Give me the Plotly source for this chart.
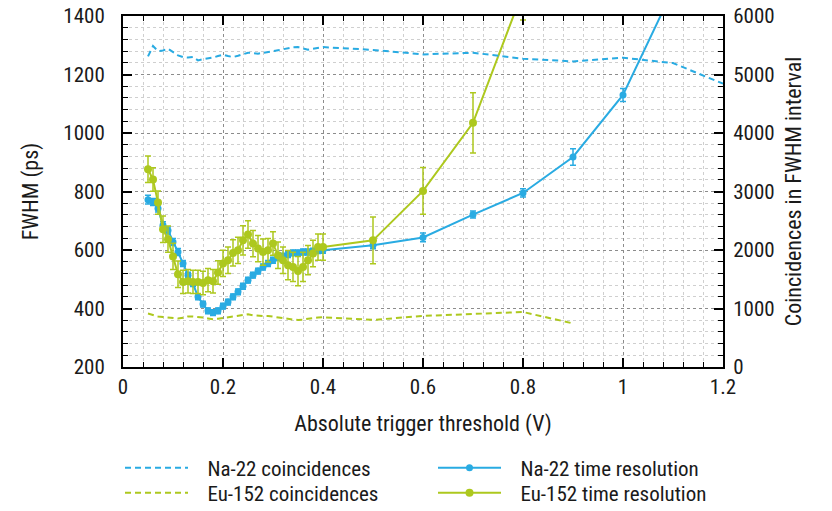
import plotly.graph_objects as go

# ---- data ----
x_dense = [0.05, 0.06, 0.07, 0.08, 0.09, 0.10, 0.11, 0.12, 0.13, 0.14, 0.15, 0.16,
           0.17, 0.18, 0.19, 0.20, 0.21, 0.22, 0.23, 0.24, 0.25, 0.26, 0.27, 0.28,
           0.29, 0.30, 0.31, 0.32, 0.33, 0.34, 0.35, 0.36, 0.37, 0.38, 0.39, 0.40]

x_na_time = x_dense + [0.5, 0.6, 0.7, 0.8, 0.9, 1.0, 1.1]
na_time = [772, 764, 742, 685, 667, 627, 593, 554, 514, 485, 440, 415,
           392, 386, 392, 408, 422, 440, 457, 476, 497, 514, 528, 542,
           554, 565, 574, 579, 584, 590, 590, 593, 593, 596, 598, 599,
           616, 643, 721, 795, 918, 1130, 1490]
na_time_err = [15, 12, 12, 12, 12, 12, 12, 10, 10, 10, 10, 10,
               10, 10, 10, 10, 10, 10, 10, 10, 10, 10, 10, 10,
               10, 10, 10, 10, 10, 10, 10, 10, 10, 10, 10, 10,
               12, 15, 12, 14, 28, 22, 25]

x_eu_time = x_dense + [0.5, 0.6, 0.7, 0.8]
eu_time = [876, 841, 762, 671, 637, 578, 517, 491, 493, 491, 491, 487,
           497, 493, 523, 554, 565, 590, 599, 633, 653, 622, 605, 593,
           599, 622, 582, 565, 548, 542, 528, 542, 565, 588, 610, 610,
           633, 802, 1035, 1486]
eu_time_err = [45, 40, 40, 45, 45, 45, 45, 40, 40, 40, 40, 40,
               40, 40, 40, 45, 45, 45, 45, 50, 47, 45, 45, 45,
               40, 40, 45, 45, 50, 50, 50, 50, 50, 45, 45, 45,
               80, 80, 103, 100]

x_na_coinc = x_dense + [0.5, 0.6, 0.7, 0.8, 0.9, 1.0, 1.1, 1.2]
na_coinc = [5310, 5486, 5400, 5412, 5441, 5383, 5327, 5298, 5290, 5300, 5241, 5260,
            5270, 5290, 5315, 5339, 5315, 5298, 5320, 5350, 5373, 5365, 5356, 5370,
            5390, 5400, 5415, 5435, 5455, 5465, 5469, 5440, 5424, 5440, 5455, 5469,
            5420, 5344, 5372, 5270, 5224, 5287, 5195, 4843]

x_eu_coinc = x_dense + [0.5, 0.6, 0.7, 0.8, 0.9]
eu_coinc = [914, 890, 865, 856, 845, 835, 828, 840, 865, 862, 856, 845,
            830, 816, 825, 839, 855, 868, 880, 895, 902, 885, 873, 873,
            873, 860, 839, 828, 818, 812, 805, 808, 825, 839, 845, 851,
            805, 873, 905, 940, 745]

legend_names = ["Na-22 coincidences", "Na-22 time resolution",
                "Eu-152 coincidences", "Eu-152 time resolution"]

BLUE = "#29abe2"
GREEN = "#adc81e"
FONT = "Roboto Condensed, Liberation Sans Narrow, sans-serif"
TXT = "#1a1a1a"
PAD = "\u00a0\u00a0\u00a0"

fig = go.Figure()

fig.add_trace(go.Scatter(
    x=x_na_coinc, y=na_coinc, yaxis="y2", mode="lines", name=PAD + legend_names[0],
    legend="legend", line=dict(color=BLUE, width=2, dash="6px,4px")))
fig.add_trace(go.Scatter(
    x=x_na_time, y=na_time, mode="lines+markers", name=PAD + legend_names[1],
    legend="legend", line=dict(color=BLUE, width=2), marker=dict(color=BLUE, size=7),
    error_y=dict(type="data", array=na_time_err, color=BLUE, thickness=1.5, width=3)))
fig.add_trace(go.Scatter(
    x=x_eu_coinc, y=eu_coinc, yaxis="y2", mode="lines", name=PAD + legend_names[2],
    legend="legend2", line=dict(color=GREEN, width=2, dash="6px,4px")))
fig.add_trace(go.Scatter(
    x=x_eu_time, y=eu_time, mode="lines+markers", name=PAD + legend_names[3],
    legend="legend2", line=dict(color=GREEN, width=2), marker=dict(color=GREEN, size=8),
    error_y=dict(type="data", array=eu_time_err, color=GREEN, thickness=1.5, width=3)))

axis_common = dict(
    showline=True, linewidth=2, linecolor="black",
    ticks="inside", ticklen=9, tickwidth=1.5, tickcolor="black",
    zeroline=False,
    tickfont=dict(family=FONT, size=21, color=TXT),
)

legend_common = dict(orientation="h", x=-0.005, xanchor="left", yanchor="middle",
                     itemwidth=63, entrywidth=235, entrywidthmode="pixels",
                     font=dict(family=FONT, size=21, color=TXT),
                     bgcolor="rgba(0,0,0,0)", traceorder="normal")

fig.update_layout(
    width=832, height=511,
    margin=dict(l=123, r=109, t=16, b=144, pad=0, autoexpand=False),
    paper_bgcolor="white", plot_bgcolor="white",
    font=dict(family=FONT, size=21, color=TXT),
    showlegend=True,
    legend=dict(y=-0.288, **legend_common),
    legend2=dict(y=-0.359, **legend_common),
    xaxis=dict(
        range=[0, 1.2], tick0=0, dtick=0.2, mirror="ticks",
        showgrid=True, gridcolor="#8c8c8c", griddash="dot", gridwidth=1,
        minor=dict(dtick=0.04, ticks="inside", ticklen=5, tickwidth=1, tickcolor="black",
                   showgrid=True, gridcolor="#cfcfcf", griddash="dot", gridwidth=1),
        ticklabelstandoff=0,
        title=dict(text="Absolute trigger threshold (V)", standoff=17,
                   font=dict(family=FONT, size=22, color=TXT)),
        automargin=False,
        **axis_common),
    yaxis=dict(
        range=[200, 1400], tick0=200, dtick=200, mirror=True,
        showgrid=True, gridcolor="#8c8c8c", griddash="dot", gridwidth=1,
        minor=dict(dtick=40, ticks="inside", ticklen=5, tickwidth=1, tickcolor="black",
                   showgrid=True, gridcolor="#cfcfcf", griddash="dot", gridwidth=1),
        ticklabelstandoff=12,
        title=dict(text="FWHM (ps)", standoff=19,
                   font=dict(family=FONT, size=22, color=TXT)),
        automargin=False,
        **axis_common),
    yaxis2=dict(
        range=[0, 6000], tick0=0, dtick=1000, overlaying="y", side="right",
        showgrid=False,
        minor=dict(dtick=200, ticks="inside", ticklen=5, tickwidth=1, tickcolor="black"),
        ticklabelstandoff=4,
        title=dict(text="Coincidences in FWHM interval", standoff=12,
                   font=dict(family=FONT, size=22, color=TXT)),
        automargin=False,
        **axis_common),
)

fig.write_html("out.html")
